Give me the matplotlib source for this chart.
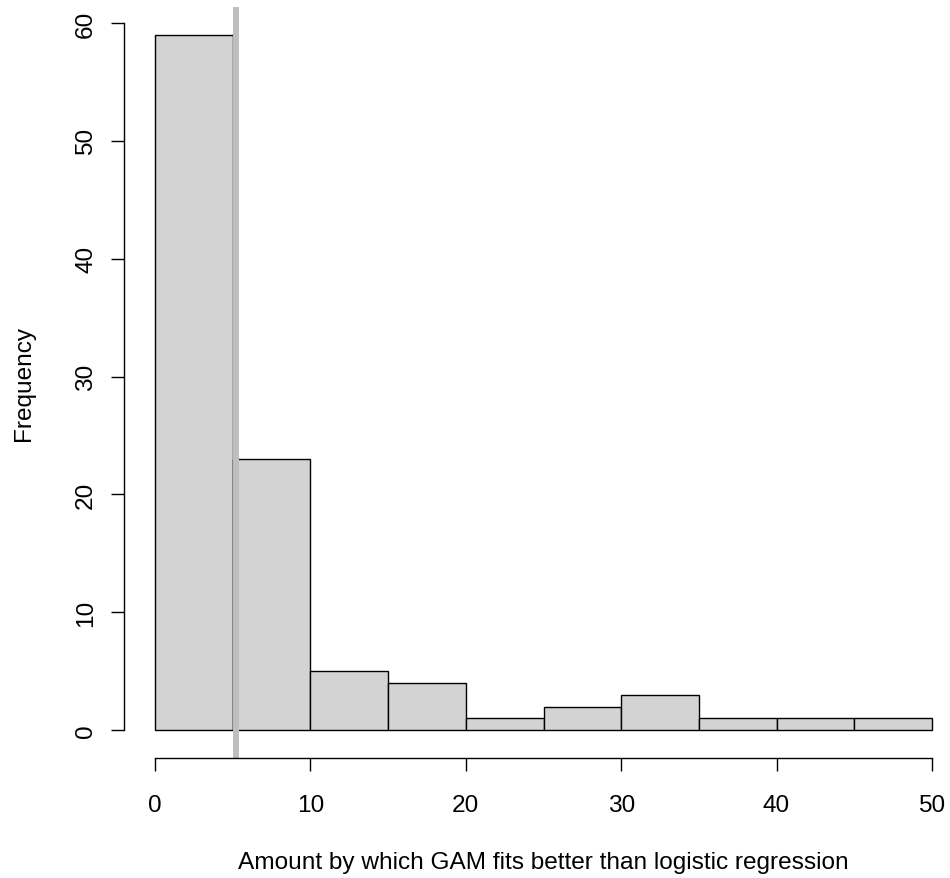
import matplotlib
matplotlib.use("Agg")
import matplotlib.pyplot as plt
import numpy as np

plt.rcParams['font.family'] = ['Liberation Sans', 'DejaVu Sans']

bin_edges = [0, 5, 10, 15, 20, 25, 30, 35, 40, 45, 50]
counts = [59, 23, 5, 4, 1, 2, 3, 1, 1, 1]
ref_value = 5.2
x_ticks = [0, 10, 20, 30, 40, 50]
y_ticks = [0, 10, 20, 30, 40, 50, 60]
xlabel = "Amount by which GAM fits better than logistic regression"
ylabel = "Frequency"

fig = plt.figure(figsize=(9.5, 8.79), dpi=100)
ax = fig.add_axes([124/950, 120/879, (963-124)/950, (871-120)/879])

lefts = np.array(bin_edges[:-1])
widths = np.diff(bin_edges)
ax.bar(lefts, counts, width=widths, align='edge', color='#D3D3D3',
       edgecolor='black', linewidth=1.0)
ax.axvline(ref_value, color='#BEBEBE', linewidth=4.3)

ax.set_xlim(-2, 52)
ax.set_ylim(-2.36, 61.36)
ax.set_xticks(x_ticks)
ax.set_yticks(y_ticks)
ax.set_yticklabels([str(v) for v in y_ticks], rotation=90, va='center')
for s in ['top', 'right']:
    ax.spines[s].set_visible(False)
ax.spines['bottom'].set_bounds(0, 50)
ax.spines['left'].set_bounds(0, 60)
ax.spines['bottom'].set_linewidth(1.0)
ax.spines['left'].set_linewidth(1.0)
ax.tick_params(axis='both', length=9.4, width=1.0, labelsize=17.6)
ax.tick_params(axis='x', pad=16.5)
ax.tick_params(axis='y', pad=10)
ax.set_xlabel(xlabel, fontsize=17.6, labelpad=25)
ax.set_ylabel(ylabel, fontsize=17.6, labelpad=29)

fig.savefig("out.png", dpi=100)
